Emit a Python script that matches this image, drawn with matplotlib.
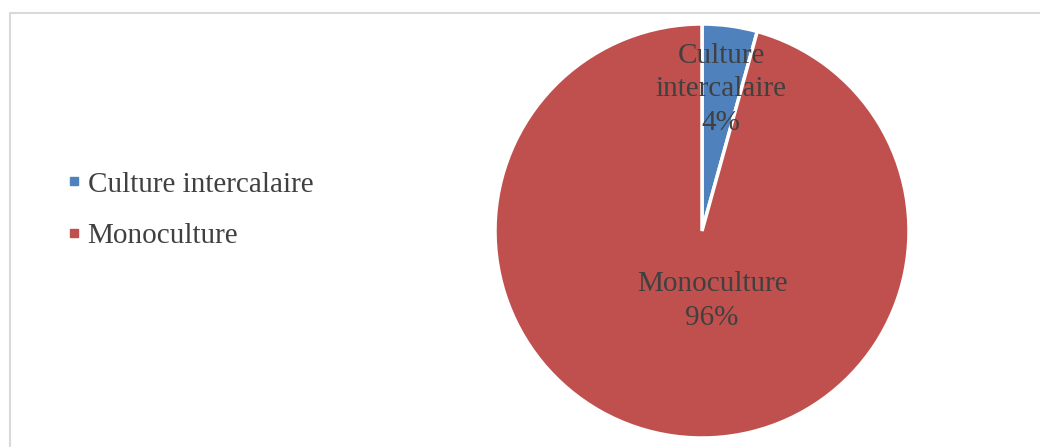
import matplotlib
matplotlib.use("Agg")
import matplotlib.pyplot as plt
import numpy as np
from matplotlib.lines import Line2D
from matplotlib.patches import Rectangle

categories = ["Culture intercalaire", "Monoculture"]
values = [4.3, 95.7]
pct_labels = ["4%", "96%"]
colors = ["#4f81bd", "#c0504d"]
text_color = "#404040"

plt.rcParams['font.family'] = ['Liberation Serif', 'DejaVu Serif']

W, H = 1040, 447
fig = plt.figure(figsize=(W/100, H/100), dpi=100)

# chart border (bottom and right edges lie outside the image)
fig.patches.append(Rectangle((9.5/W, -0.1), 1.2, 1.1 - 13.5/H, transform=fig.transFigure,
                             fill=False, edgecolor="#d9d9d9", linewidth=1.5))

cx, cy, r = 702, 231, 207
ax = fig.add_axes([(cx - r)/W, (H - cy - r)/H, 2*r/W, 2*r/H])
wedges, _ = ax.pie(values, colors=colors, startangle=90, counterclock=False,
                   radius=1, wedgeprops=dict(edgecolor="white", linewidth=2.5))
ax.set_xlim(-1, 1)
ax.set_ylim(-1, 1)
ax.set_aspect("equal")
ax.axis("off")

label_texts = ["Culture\nintercalaire\n" + pct_labels[0], "Monoculture\n" + pct_labels[1]]
dists = [0.69, 0.34]
offsets = [0.0, 0.095]
for w, t, d, o in zip(wedges, label_texts, dists, offsets):
    ang = np.deg2rad((w.theta1 + w.theta2) / 2)
    ax.text(d*np.cos(ang) + o, d*np.sin(ang), t, ha="center", va="center",
            fontsize=21, color=text_color, linespacing=1.38)

handles = [Line2D([], [], marker="s", linestyle="none", markersize=5.5,
                  markerfacecolor=c, markeredgecolor=c) for c in colors]
fig.legend(handles, categories, loc="center left", bbox_to_anchor=(54/W, 1 - 210/H),
           frameon=False, fontsize=21, labelcolor=text_color, handlelength=0.6,
           handletextpad=0.15, labelspacing=0.85, borderaxespad=0)

fig.savefig("out.png", dpi=100, facecolor="white")
